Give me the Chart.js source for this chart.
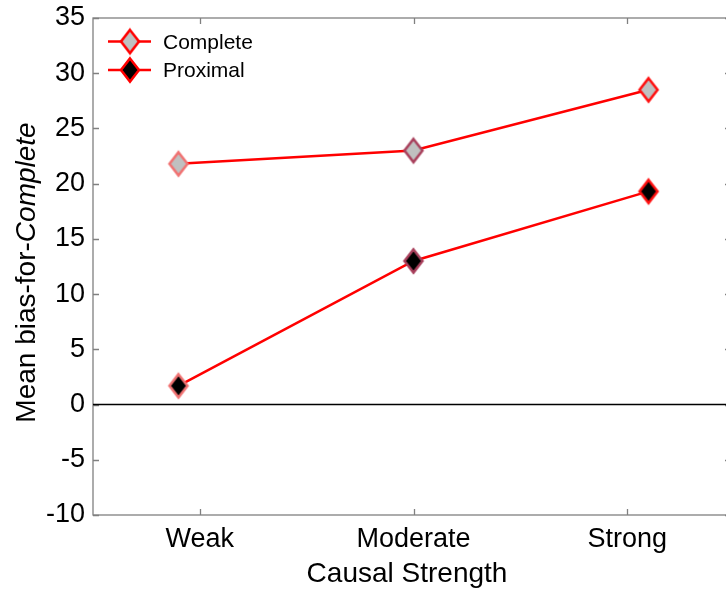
<!DOCTYPE html>
<html><head><meta charset="utf-8">
<script src="https://cdn.jsdelivr.net/npm/chart.js@4/dist/chart.umd.min.js"></script>
<style>html,body{margin:0;padding:0;overflow:hidden;background:#fff;width:726px;height:591px}
#wrap{position:absolute;left:0;top:0;width:740px;height:591px}</style>
</head><body><div id="wrap"><canvas id="c" width="740" height="591"></canvas></div>
<script>
// ---- data ----
const categories = ['Weak', 'Moderate', 'Strong'];
const categoryTicks = [1, 2, 3];
const xValues = [0.9, 2, 3.1];
const completeMeans = [21.8, 23.0, 28.5];
const proximalMeans = [1.7, 13.0, 19.3];
const yTicks = [-10, -5, 0, 5, 10, 15, 20, 25, 30, 35];
const seriesNames = ['Complete', 'Proximal'];
const yTitleParts = ['Mean bias-for-', 'Complete'];
const xTitle = 'Causal Strength';

// ---- style ----
const FONT = '"Liberation Sans", Arial, Helvetica, sans-serif';
const RED = '#ff0000';
const pointBorders = ['#f07272', '#a8405c', '#ff1010'];
const fills = ['#c0c0c0', '#000000'];

function diamond(fill, stroke) {
  const c = document.createElement('canvas');
  c.width = 26; c.height = 32;
  const g = c.getContext('2d');
  g.beginPath();
  g.moveTo(13, 16 - 11.6); g.lineTo(13 + 9, 16); g.lineTo(13, 16 + 11.6); g.lineTo(13 - 9, 16);
  g.closePath();
  g.fillStyle = fill; g.fill();
  g.lineWidth = 2.5; g.lineJoin = 'miter'; g.strokeStyle = stroke; g.stroke();
  return c;
}
const styles = fills.map(f => pointBorders.map(b => diamond(f, b)));
const legendMarks = fills.map(f => diamond(f, RED));

const decor = {
  id: 'decor',
  beforeDatasetsDraw(chart) {
    const { ctx, chartArea: a, scales: { x, y } } = chart;
    ctx.save();
    ctx.strokeStyle = '#808080'; ctx.lineWidth = 1.3;
    ctx.strokeRect(a.left, a.top, a.right - a.left, a.bottom - a.top);
    ctx.beginPath();
    yTicks.forEach(v => {
      const p = Math.round(y.getPixelForValue(v)) + 0.5;
      ctx.moveTo(a.left, p); ctx.lineTo(a.left + 6, p);
      ctx.moveTo(a.right, p); ctx.lineTo(a.right - 9, p);
    });
    categoryTicks.forEach(v => {
      const p = Math.round(x.getPixelForValue(v)) + 0.5;
      ctx.moveTo(p, a.bottom); ctx.lineTo(p, a.bottom - 6);
      ctx.moveTo(p, a.top); ctx.lineTo(p, a.top + 6);
    });
    ctx.stroke();
    const z = y.getPixelForValue(0);
    ctx.strokeStyle = '#000'; ctx.lineWidth = 1.5;
    ctx.beginPath(); ctx.moveTo(a.left, z); ctx.lineTo(a.right, z); ctx.stroke();
    ctx.restore();
  },
  afterDraw(chart) {
    const { ctx } = chart;
    ctx.save();
    ctx.fillStyle = '#000';
    // y title
    ctx.translate(35, 272.5);
    ctx.rotate(-Math.PI / 2);
    ctx.font = '28px ' + FONT;
    const w1 = ctx.measureText(yTitleParts[0]).width;
    ctx.font = 'italic 28px ' + FONT;
    const w2 = ctx.measureText(yTitleParts[1]).width;
    const start = -(w1 + w2) / 2;
    ctx.textBaseline = 'alphabetic'; ctx.textAlign = 'left';
    ctx.font = '28px ' + FONT;
    ctx.fillText(yTitleParts[0], start, 0);
    ctx.font = 'italic 28px ' + FONT;
    ctx.fillText(yTitleParts[1], start + w1, 0);
    ctx.restore();
    // x title
    ctx.save();
    ctx.fillStyle = '#000';
    ctx.font = '28px ' + FONT;
    ctx.textAlign = 'center'; ctx.textBaseline = 'alphabetic';
    ctx.fillText(xTitle, 407, 582);
    // legend
    const rows = [41.5, 70];
    seriesNames.forEach((n, i) => {
      const cy = rows[i];
      ctx.strokeStyle = RED; ctx.lineWidth = 2.5;
      ctx.beginPath(); ctx.moveTo(108, cy); ctx.lineTo(151, cy); ctx.stroke();
      ctx.drawImage(legendMarks[i], 130 - 13, cy - 16);
      ctx.font = '21px ' + FONT;
      ctx.textAlign = 'left'; ctx.textBaseline = 'alphabetic';
      ctx.fillText(n, 163, cy + 7.2);
    });
    ctx.restore();
  }
};

const mk = (vals) => xValues.map((xv, i) => ({ x: xv, y: vals[i] }));
const noPad = s => { s.paddingLeft = 0; s.paddingRight = 0; s.paddingTop = 0; s.paddingBottom = 0; };

new Chart(document.getElementById('c'), {
  type: 'line',
  data: {
    datasets: [
      { label: seriesNames[0], data: mk(completeMeans), borderColor: RED, borderWidth: 2.5,
        pointStyle: styles[0], pointRadius: 11, tension: 0, fill: false },
      { label: seriesNames[1], data: mk(proximalMeans), borderColor: RED, borderWidth: 2.5,
        pointStyle: styles[1], pointRadius: 11, tension: 0, fill: false }
    ]
  },
  options: {
    responsive: false, animation: false, events: [], devicePixelRatio: 1,
    layout: { autoPadding: false, padding: { left: 0, right: 6, top: 18, bottom: 0 } },
    plugins: { legend: { display: false }, tooltip: { enabled: false } },
    scales: {
      x: {
        type: 'linear', min: 0.5, max: 3.5,
        afterBuildTicks: s => { s.ticks = categoryTicks.map(v => ({ value: v })); },
        afterFit: s => { s.height = 76; noPad(s); },
        grid: { display: false, drawTicks: false }, border: { display: false },
        ticks: { callback: v => categories[categoryTicks.indexOf(v)] ?? '', font: { size: 27, family: FONT },
          color: '#000', padding: 8, maxRotation: 0, autoSkip: false }
      },
      y: {
        min: -10, max: 35,
        afterBuildTicks: s => { s.ticks = yTicks.map(v => ({ value: v })); },
        afterFit: s => { s.width = 93; noPad(s); },
        grid: { display: false, drawTicks: false }, border: { display: false },
        ticks: { font: { size: 27, family: FONT }, color: '#000', padding: 8, autoSkip: false }
      }
    }
  },
  plugins: [decor]
});
</script></body></html>
